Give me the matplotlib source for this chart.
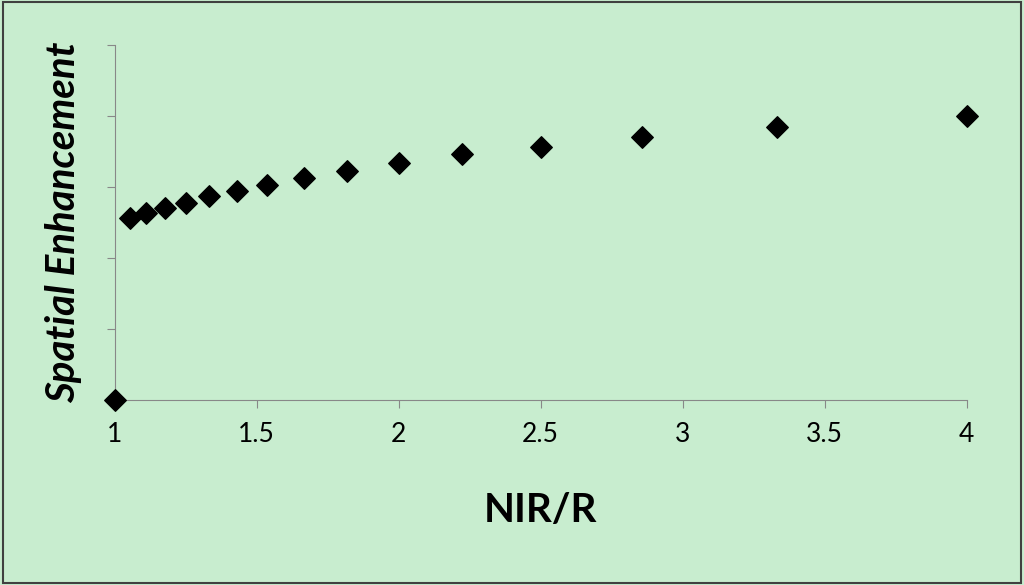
import matplotlib
matplotlib.use("Agg")
import matplotlib.pyplot as plt
from matplotlib.patches import Rectangle

x = [1.0, 1.053, 1.111, 1.176, 1.25, 1.333, 1.429, 1.538, 1.667, 1.818, 2.0, 2.222, 2.5, 2.857, 3.333, 4.0]
y = [0.0, 2.57, 2.64, 2.71, 2.78, 2.87, 2.95, 3.03, 3.13, 3.23, 3.34, 3.46, 3.57, 3.71, 3.85, 4.0]
xticks = [1, 1.5, 2, 2.5, 3, 3.5, 4]
xticklabels = ["1", "1.5", "2", "2.5", "3", "3.5", "4"]

plt.rcParams['font.family'] = ['Lato', 'DejaVu Sans']
bg = "#C8EDCF"
fig = plt.figure(figsize=(10.24, 5.85), dpi=100, facecolor=bg)
fig.patches.append(Rectangle((0.003, 0.004), 0.994, 0.992, transform=fig.transFigure,
                             fill=False, edgecolor="#404040", linewidth=1.5))
ax = fig.add_axes([0.112, 0.316, 0.832, 0.607])
ax.set_facecolor(bg)
ax.scatter(x, y, marker="D", s=120, color="black", clip_on=False, zorder=3)
ax.set_xlim(1, 4)
ax.set_ylim(0, 5)
for s in ["top", "right"]:
    ax.spines[s].set_visible(False)
for s in ["left", "bottom"]:
    ax.spines[s].set_color("#888888")
ax.set_xticks(xticks)
ax.set_xticklabels(xticklabels)
ax.set_yticks(range(6))
ax.set_yticklabels([])
ax.tick_params(axis="x", direction="out", length=6, color="#888888", labelsize=19, pad=10)
ax.tick_params(axis="y", direction="out", length=6, color="#888888")
ax.set_xlabel("NIR/R", fontsize=29, fontweight="bold", labelpad=32)
ax.set_ylabel("Spatial Enhancement", fontsize=29, fontweight="bold", style="italic",
              labelpad=14)
fig.savefig("out.png", dpi=100, facecolor=bg)
